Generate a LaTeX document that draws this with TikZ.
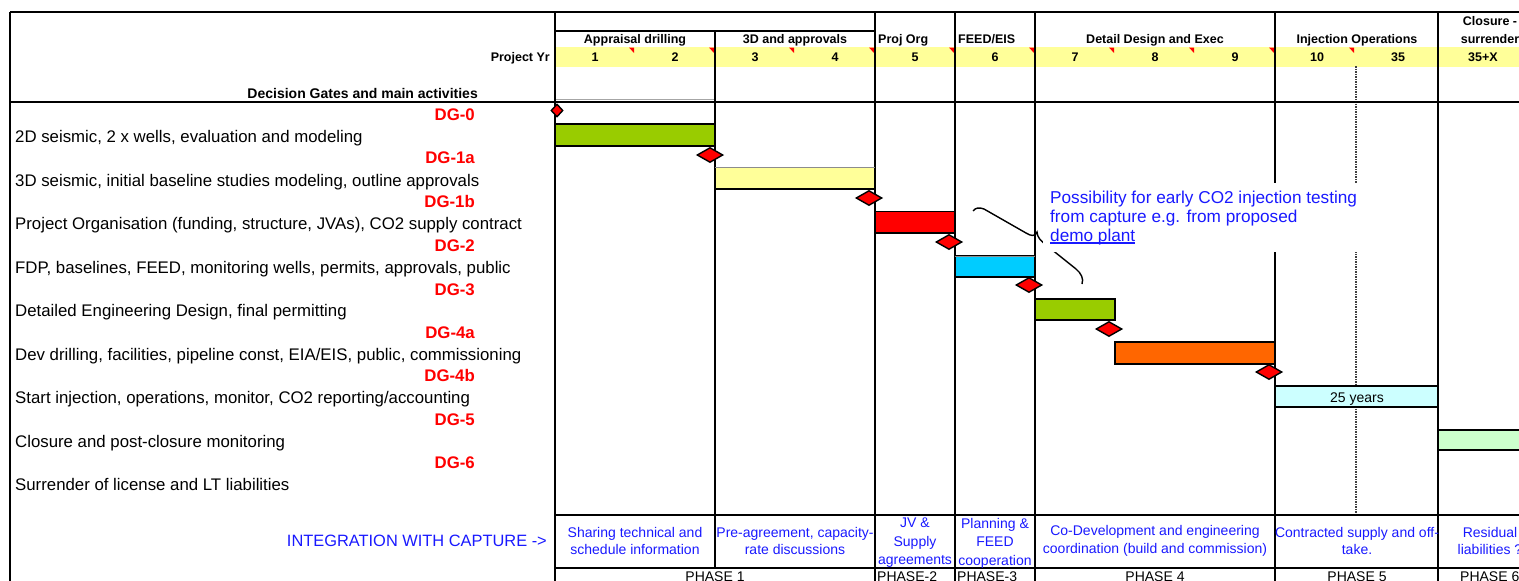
\documentclass[tikz,border=0pt]{standalone}
\usepackage{fontspec}
\setmainfont{Liberation Sans}
\usetikzlibrary{shapes.geometric}

\definecolor{barGreen}{RGB}{153,204,0}
\definecolor{barYellow}{RGB}{255,255,153}
\definecolor{barRed}{RGB}{255,0,0}
\definecolor{barCyan}{RGB}{0,204,255}
\definecolor{barOrange}{RGB}{255,102,0}
\definecolor{barPaleCyan}{RGB}{204,255,255}
\definecolor{barPaleGreen}{RGB}{204,255,204}
\definecolor{yrBand}{RGB}{255,255,153}
\definecolor{noteBlue}{RGB}{25,25,255}
\definecolor{gateRed}{RGB}{255,0,0}

\newcommand\actfont{\fontsize{16.8}{20}\selectfont}
\newcommand\gatefont{\fontsize{16.8}{20}\selectfont\bfseries}
\newcommand\hdrfont{\fontsize{12.5}{15}\selectfont\bfseries}
\newcommand\cellfont{\fontsize{14}{17.5}\selectfont}
\newcommand\cellfontt{\fontsize{14}{18.5}\selectfont}
\newcommand\notefont{\fontsize{17.2}{19}\selectfont}
\newcommand\ulinetext[1]{\setbox0\hbox{#1}\rlap{\raisebox{-2.6pt}{\rule{\wd0}{1.2pt}}}\box0}

\begin{document}
\begin{tikzpicture}[x=1pt,y=-1pt,
  rule/.style={line width=1.4pt},
  heavyrule/.style={line width=2.4pt},
  bar/.style={draw=black, line width=1.5pt},
  gate/.style={diamond, draw=black, fill=red, line width=1.4pt, inner sep=0pt,
               minimum width=26pt, minimum height=15pt},
  act/.style={anchor=base west, inner sep=0pt, font=\actfont},
  dg/.style={anchor=base east, inner sep=0pt, font=\gatefont, text=gateRed},
  hdr/.style={anchor=base, inner sep=0pt, font=\hdrfont},
  cell/.style={align=center, inner sep=0pt, font=\cellfont, text=noteBlue},
  cellt/.style={align=center, inner sep=0pt, font=\cellfontt, text=noteBlue},
  phase/.style={anchor=base, inner sep=0pt, font=\cellfont},
]
\useasboundingbox (0,0) rectangle (1519,581);
\clip (0,0) rectangle (1519,581);

% year band
\fill[yrBand] (555,47) rectangle (1525,67);
\foreach \mx in {635,715,...,1355}
  \fill[red] (\mx-6,47.5) -- (\mx-1,47.5) -- (\mx-1,53) -- cycle;

% grid
\draw[rule] (555,31) -- (875,31);
\draw[black!35, line width=0.8pt] (555,99.5) -- (715,99.5);
\draw[rule] (715,31) -- (715,568);
\foreach \gx in {875,955,1035,1275,1438}
  \draw[rule] (\gx,12) -- (\gx,585);
\draw[line width=1.2pt, black!75, dash pattern=on 1.5pt off 1pt] (1356,66) -- (1356,515);
\draw[heavyrule] (555,12) -- (555,585);
\draw[heavyrule] (10,12) -- (1525,12);
\draw[heavyrule] (10,12) -- (10,585);
\draw[heavyrule] (10,102) -- (1525,102);
\draw[heavyrule] (555,515) -- (1525,515);
\draw[heavyrule] (555,568) -- (1525,568);

% activity bars
\draw[bar, fill=barGreen]     (555,124)   rectangle (715,146);
\draw[bar, fill=barYellow]    (715,167.5) rectangle (875,189);
\draw[bar, fill=barRed]       (875,211.5) rectangle (955,233);
\draw[bar, fill=barCyan]      (955,256)   rectangle (1035,277);
\draw[bar, fill=barGreen]     (1035,299)  rectangle (1115,320);
\draw[bar, fill=barOrange]    (1115,342)  rectangle (1275,364);
\draw[bar, fill=barPaleCyan]  (1275,386)  rectangle (1438,407);
\draw[bar, fill=barPaleGreen] (1438,430)  rectangle (1530,450);
\draw[black!45, line width=1pt] (715,167.5) -- (875,167.5);
\draw[black!45, line width=1pt] (955,256) -- (1035,256);
\node[inner sep=0pt, font=\cellfont, anchor=base] (yrs25) at (1357,402) {25 years};

% decision gate milestones
\node[gate, minimum width=12pt, minimum height=13pt] (g0) at (557,110.5) {};
\node[gate] (g1a) at (710,155) {};
\node[gate] (g1b) at (869,198) {};
\node[gate] (g2)  at (949,242) {};
\node[gate] (g3)  at (1029,285) {};
\node[gate] (g4a) at (1109,329) {};
\node[gate] (g4b) at (1269,372) {};

% brace pointing at the note
\draw[line width=1.4pt] (973,211) .. controls (975,208) and (979,207) .. (984,209)
  -- (1026,233) .. controls (1031,236) and (1035,237) .. (1037,232)
  .. controls (1037,237) and (1041,241) .. (1046,245)
  -- (1076,269) .. controls (1081,273) and (1084,279) .. (1082,284);

% note about early injection
\fill[white] (1043,183) rectangle (1366,252);
\node[anchor=base west, inner sep=0pt, font=\notefont, text=noteBlue] (note1) at (1050,203) {Possibility for early CO2 injection testing};
\node[anchor=base west, inner sep=0pt, font=\notefont, text=noteBlue] (note2) at (1050,222) {from capture e.g. from proposed};
\node[anchor=base west, inner sep=0pt, font=\notefont, text=noteBlue] (note3) at (1050,241) {\ulinetext{demo plant}};

% header
\node[hdr] (hAppr) at (635,43.5) {Appraisal drilling};
\node[hdr] (h3d) at (795,43.5) {3D and approvals};
\node[hdr, anchor=base west] (hOrg) at (878,43.5) {Proj Org};
\node[hdr, anchor=base west] (hFeed) at (958,43.5) {FEED/EIS};
\node[hdr] (hDet) at (1155,43.5) {Detail Design and Exec};
\node[hdr] (hInj) at (1357,43.5) {Injection Operations};
\node[hdr] (hClo) at (1490,25.2) {Closure -};
\node[hdr] (hSur) at (1490,43) {surrender};
\node[hdr, anchor=base east] (hYr) at (550,61.5) {Project Yr};
\node[hdr] (y1) at (595,61.5) {1};
\node[hdr] (y2) at (675,61.5) {2};
\node[hdr] (y3) at (755,61.5) {3};
\node[hdr] (y4) at (835,61.5) {4};
\node[hdr] (y5) at (915,61.5) {5};
\node[hdr] (y6) at (995,61.5) {6};
\node[hdr] (y7) at (1075,61.5) {7};
\node[hdr] (y8) at (1155,61.5) {8};
\node[hdr] (y9) at (1235,61.5) {9};
\node[hdr] (y10) at (1317,61.5) {10};
\node[hdr] (y35) at (1398,61.5) {35};
\node[hdr] (y35x) at (1483,61.5) {35+X};
\node[anchor=base east, inner sep=0pt, font=\fontsize{14}{16}\selectfont\bfseries] (hDG) at (478,98) {Decision Gates and main activities};

% gates and activities
\node[dg] (l0) at (475,120) {DG-0};
\node[act] (a1) at (15,142) {2D seismic, 2 x wells, evaluation and modeling};
\node[dg] (l1a) at (475,163) {DG-1a};
\node[act] (a2) at (15,186) {3D seismic, initial baseline studies modeling, outline approvals};
\node[dg] (l1b) at (475,207) {DG-1b};
\node[act] (a3) at (15,229) {Project Organisation (funding, structure, JVAs), CO2 supply contract};
\node[dg] (l2) at (475,251) {DG-2};
\node[act] (a4) at (15,273) {FDP, baselines, FEED, monitoring wells, permits, approvals, public};
\node[dg] (l3) at (475,295) {DG-3};
\node[act] (a5) at (15,316) {Detailed Engineering Design, final permitting};
\node[dg] (l4a) at (475,338) {DG-4a};
\node[act] (a6) at (15,360) {Dev drilling, facilities, pipeline const, EIA/EIS, public, commissioning};
\node[dg] (l4b) at (475,381) {DG-4b};
\node[act] (a7) at (15,403) {Start injection, operations, monitor, CO2 reporting/accounting};
\node[dg] (l5) at (475,425) {DG-5};
\node[act] (a8) at (15,447) {Closure and post-closure monitoring};
\node[dg] (l6) at (475,468) {DG-6};
\node[act] (a9) at (15,490) {Surrender of license and LT liabilities};

% integration with capture
\node[anchor=base east, inner sep=0pt, font=\fontsize{16.4}{18}\selectfont, text=noteBlue] (integ) at (547,546) {INTEGRATION WITH CAPTURE ->};
\node[cell] (c1) at (635,541) {Sharing technical and\\schedule information};
\node[cell] (c2) at (795,541) {Pre-agreement, capacity-\\rate discussions};
\node[cellt] (c3) at (915,543) {JV \&\\Supply\\agreements};
\node[cellt] (c4) at (995,543) {Planning \&\\FEED\\cooperation};
\node[cell] (c5) at (1155,541) {Co-Development and engineering\\coordination (build and commission)};
\node[cell] (c6) at (1357,541) {Contracted supply and off-\\take.};
\node[cell] (c7) at (1490,541) {Residual\\liabilities ?};

% phases
\node[phase] (p1) at (715,581) {PHASE 1};
\node[phase, anchor=base west] (p2) at (877,581) {PHASE-2};
\node[phase, anchor=base west] (p3) at (957,581) {PHASE-3};
\node[phase] (p4) at (1155,581) {PHASE 4};
\node[phase] (p5) at (1357,581) {PHASE 5};
\node[phase, anchor=base west] (p6) at (1460,581) {PHASE 6};
\end{tikzpicture}
\end{document}
